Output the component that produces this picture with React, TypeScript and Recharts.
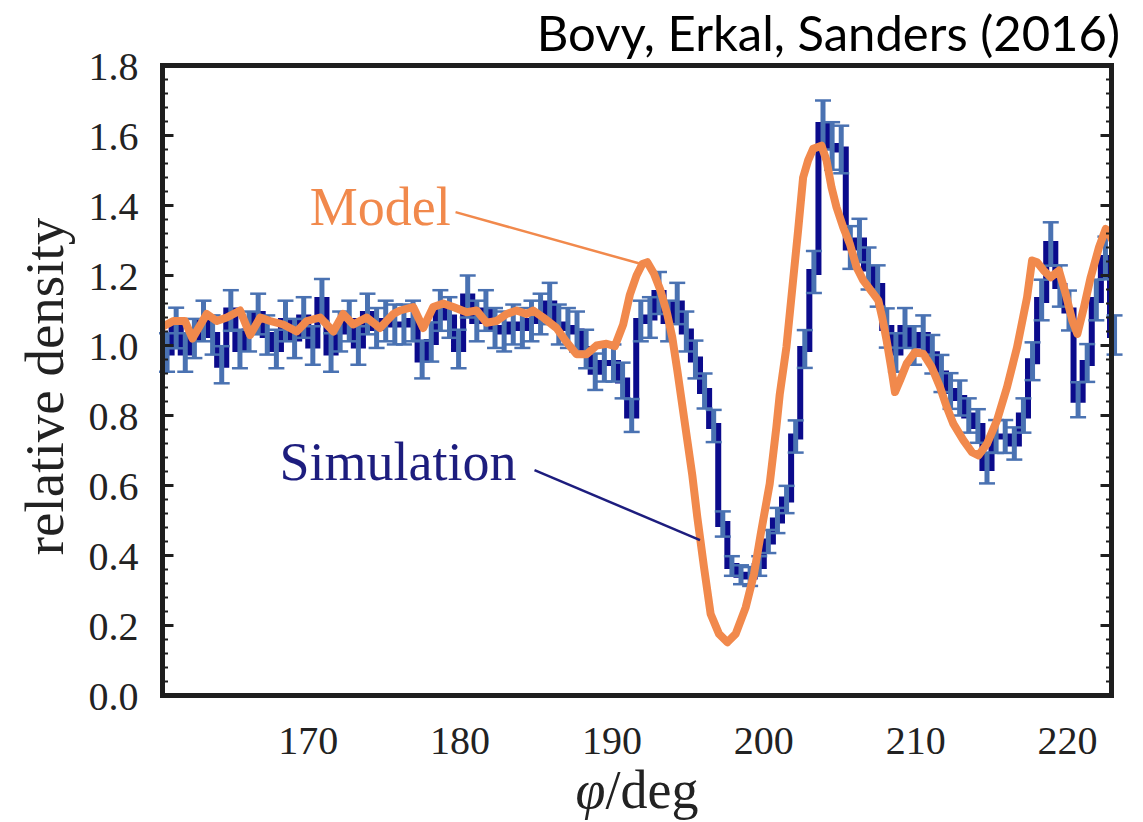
import {
  ComposedChart,
  Line,
  XAxis,
  YAxis,
  ErrorBar,
  ReferenceLine,
  ReferenceDot,
  Label,
} from "recharts";

const FRAME = "#1e1e1e";
const SIM_STEP = "#0b0b8c";
const SIM_ERR = "#4a72b2";
const MODEL = "#f1894c";
const SIM_TEXT = "#1d1d7e";
const SERIF = '"Liberation Serif", "DejaVu Serif", serif';

// simulation histogram, bins 0.6 deg wide starting at 160.4 deg
const BIN_START = 160.7;
const BIN_WIDTH = 0.6;

const simDensity = [
  0.98, 1.05, 0.98, 1.02, 1.07, 1.03, 0.945, 1.1, 0.99, 1.04,
  1.09, 1.03, 0.99, 1.07, 1.02, 1.08, 1.0, 1.13, 0.98, 1.04,
  1.07, 1.0, 1.09, 1.05, 1.07, 1.06, 1.06, 1.07, 0.96, 1.01,
  1.1, 1.08, 0.99, 1.14, 1.07, 1.1, 1.05, 1.04, 1.06, 1.05,
  1.07, 1.09, 1.12, 1.06, 1.05, 1.04, 0.99, 0.925, 0.95, 0.95,
  0.9, 0.8, 1.07, 1.08, 1.15, 1.07, 1.12, 1.04, 0.96, 0.87,
  0.77, 0.49, 0.37, 0.345, 0.34, 0.37, 0.44, 0.5, 0.56, 0.74,
  0.99, 1.21, 1.63, 1.57, 1.56, 1.28, 1.3, 1.22, 1.17, 1.05,
  0.98, 1.05, 1.0, 1.03, 0.975, 0.92, 0.87, 0.85, 0.8, 0.77,
  0.65, 0.74, 0.74, 0.72, 0.8, 0.955, 1.13, 1.29, 1.17, 1.1,
  0.845, 0.95, 1.13, 1.25, 1.03,
];

const simError = [
  0.055, 0.058, 0.055, 0.056, 0.058, 0.056, 0.053, 0.058, 0.055, 0.057,
  0.058, 0.056, 0.055, 0.058, 0.056, 0.058, 0.055, 0.06, 0.055, 0.057,
  0.058, 0.055, 0.058, 0.057, 0.058, 0.057, 0.057, 0.058, 0.054, 0.056,
  0.058, 0.058, 0.055, 0.06, 0.058, 0.058, 0.057, 0.057, 0.057, 0.057,
  0.058, 0.058, 0.059, 0.057, 0.057, 0.057, 0.055, 0.052, 0.053, 0.053,
  0.051, 0.047, 0.058, 0.058, 0.06, 0.058, 0.059, 0.057, 0.054, 0.05,
  0.046, 0.036, 0.028, 0.027, 0.027, 0.028, 0.033, 0.036, 0.039, 0.046,
  0.054, 0.06, 0.07, 0.068, 0.068, 0.061, 0.062, 0.06, 0.059, 0.056,
  0.055, 0.057, 0.055, 0.056, 0.055, 0.053, 0.051, 0.05, 0.049, 0.048,
  0.044, 0.047, 0.047, 0.046, 0.049, 0.054, 0.058, 0.062, 0.059, 0.057,
  0.05, 0.054, 0.058, 0.061, 0.056,
];

const modelPhi = [
  160.24, 161.11, 161.88, 162.37, 163.31, 163.97, 164.63, 165.51, 166.17, 166.83,
  167.49, 168.35, 169.24, 169.9, 170.78, 171.65, 172.3, 172.96, 173.84, 174.72,
  175.6, 176.04, 176.91, 177.57, 178.23, 178.89, 179.55, 180.43, 181.09, 181.74,
  182.4, 183.06, 183.72, 184.38, 184.81, 185.47, 186.35, 187.01, 187.67, 188.33,
  188.99, 189.64, 190.19, 190.74, 191.18, 191.62, 192.0, 192.33, 192.77, 193.2,
  193.64, 193.97, 194.3, 194.63, 194.96, 195.29, 195.62, 196.06, 196.5, 197.05,
  197.6, 198.15, 198.81, 199.36, 199.8, 200.39, 200.83, 201.05, 201.49, 201.93,
  202.26, 202.59, 202.92, 203.25, 203.8, 204.13, 204.46, 204.79, 205.23, 205.67,
  206.11, 206.55, 207.21, 207.54, 207.8, 208.09, 208.42, 208.64, 208.97, 209.41,
  209.96, 210.51, 211.06, 211.61, 212.05, 212.49, 213.15, 213.71, 214.14, 214.7,
  215.36, 216.02, 216.68, 217.34, 217.67, 218.0, 218.44, 218.89, 219.44, 219.88,
  220.32, 220.65, 221.09, 221.53, 222.08, 222.52, 222.85, 223.1,
];

const modelDensity = [
  1.05, 1.07, 1.07, 1.02, 1.09, 1.07, 1.08, 1.1, 1.03, 1.08,
  1.07, 1.06, 1.04, 1.07, 1.08, 1.04, 1.09, 1.06, 1.08, 1.05,
  1.09, 1.1, 1.11, 1.05, 1.11, 1.12, 1.11, 1.095, 1.1, 1.065,
  1.07, 1.09, 1.1, 1.09, 1.1, 1.08, 1.05, 1.01, 0.975, 0.975,
  1.0, 1.005, 0.998, 1.06, 1.145, 1.2, 1.233, 1.238, 1.205, 1.157,
  1.09, 1.024, 0.93, 0.83, 0.73, 0.63, 0.51, 0.367, 0.233, 0.176,
  0.152, 0.176, 0.252, 0.348, 0.462, 0.605, 0.767, 0.86, 0.995, 1.186,
  1.329, 1.48, 1.529, 1.562, 1.571, 1.529, 1.452, 1.395, 1.338, 1.29,
  1.224, 1.186, 1.148, 1.129, 1.08, 1.014, 0.929, 0.867, 0.9, 0.948,
  0.981, 0.976, 0.938, 0.881, 0.824, 0.776, 0.729, 0.695, 0.686, 0.719,
  0.786, 0.881, 0.995, 1.138, 1.243, 1.238, 1.214, 1.195, 1.214, 1.148,
  1.071, 1.033, 1.11, 1.195, 1.281, 1.333, 1.31, 1.29,
];

const xTicks = [170, 180, 190, 200, 210, 220];
const xMinorTicks = [
  162, 164, 166, 168, 172, 174, 176, 178, 182, 184, 186, 188, 192, 194, 196,
  198, 202, 204, 206, 208, 212, 214, 216, 218, 222,
];
const yTicks = [0, 0.2, 0.4, 0.6, 0.8, 1.0, 1.2, 1.4, 1.6, 1.8];
const yMinorTicks = Array.from({ length: 44 }, (_, i) => +((i + 1) * 0.04).toFixed(2)).filter(
  (t) => !yTicks.some((m) => Math.abs(m - t) < 1e-6)
);

const X_DOMAIN: [number, number] = [160.4, 222.9];
const Y_DOMAIN: [number, number] = [0, 1.8];

// annotation texts and leader lines, in data coordinates
const notes = [
  { text: "Model", phi: 170.1, v: 1.344, color: MODEL },
  { text: "Simulation", phi: 168.1, v: 0.616, color: SIM_TEXT },
];
const leaders = [
  { from: { x: 179.7, y: 1.381 }, to: { x: 192.0, y: 1.232 }, color: MODEL },
  { from: { x: 184.9, y: 0.644 }, to: { x: 195.8, y: 0.444 }, color: SIM_TEXT },
];

const simData = simDensity.map((v, i) => ({
  phi: +(BIN_START + i * BIN_WIDTH).toFixed(2),
  v,
  err: simError[i],
}));
const modelData = modelPhi.map((phi, i) => ({ phi, v: modelDensity[i] }));

const tickFont = { fontSize: 40, fontFamily: SERIF, fill: "#222" };

// inward tick marks drawn from the frame edge
type Side = "top" | "bottom" | "left" | "right";
function edgeTick(side: Side, majors: number[]) {
  return (props: any) => {
    const { x, y, payload } = props;
    const major = majors.some((m) => Math.abs(m - payload.value) < 1e-6);
    const len = major ? 11 : 5.5;
    let x2 = x;
    let y2 = y;
    if (side === "bottom") y2 = y - len;
    if (side === "top") y2 = y + len;
    if (side === "left") x2 = x + len;
    if (side === "right") x2 = x - len;
    return <line x1={x} y1={y} x2={x2} y2={y2} stroke={FRAME} strokeWidth={major ? 3 : 2} />;
  };
}

function XTitle(props: any) {
  const { viewBox } = props;
  return (
    <text
      x={viewBox.x + viewBox.width / 2}
      y={viewBox.y + 112}
      textAnchor="middle"
      fontSize={54}
      fontFamily={SERIF}
      fill="#222"
    >
      <tspan fontStyle="italic">φ</tspan>/deg
    </text>
  );
}

function YTitle(props: any) {
  const { viewBox } = props;
  const cx = 63;
  const cy = viewBox.y + viewBox.height / 2 + 6;
  return (
    <text
      x={cx}
      y={cy}
      transform={`rotate(-90 ${cx} ${cy})`}
      textAnchor="middle"
      fontSize={55}
      fontFamily={SERIF}
      fill="#222"
    >
      relative density
    </text>
  );
}

function noteContent(text: string, color: string) {
  return (props: any) => {
    const { viewBox } = props;
    return (
      <text x={viewBox.x} y={viewBox.y} fill={color} fontSize={54} fontFamily={SERIF}>
        {text}
      </text>
    );
  };
}

const frameLine = { stroke: FRAME, strokeWidth: 5, strokeLinecap: "square" as const };
const xAllTicks = [...xTicks, ...xMinorTicks].sort((a, b) => a - b);
const yAllTicks = [...yTicks, ...yMinorTicks].sort((a, b) => a - b);

export default function App() {
  return (
    <div style={{ position: "absolute", left: 0, top: 0, width: 1143, height: 822, background: "#fff" }}>
      <div
        style={{
          position: "absolute",
          right: 23,
          top: 8,
          fontFamily: "Lato, 'Open Sans', sans-serif",
          fontSize: 49,
          lineHeight: "49px",
          color: "#000",
          whiteSpace: "nowrap",
        }}
      >
        Bovy, Erkal, Sanders (2016)
      </div>
      <ComposedChart
        width={1143}
        height={822}
        margin={{ top: 65.5, right: 31.5, bottom: 46.5, left: 62.5 }}
      >
        <XAxis
          xAxisId="x"
          type="number"
          dataKey="phi"
          domain={X_DOMAIN}
          allowDataOverflow
          ticks={xTicks}
          interval={0}
          height={80}
          tickSize={0}
          tickMargin={30}
          tickLine={false}
          axisLine={false}
          tick={tickFont}
        >
          <Label content={XTitle} />
        </XAxis>
        <YAxis
          yAxisId="y"
          type="number"
          domain={Y_DOMAIN}
          allowDataOverflow
          ticks={yTicks}
          interval={0}
          width={100}
          tickSize={0}
          tickMargin={24}
          tickLine={false}
          axisLine={false}
          tick={tickFont}
          tickFormatter={(v: number) => v.toFixed(1)}
        >
          <Label content={YTitle} />
        </YAxis>

        {/* frame with inward ticks on all four sides */}
        <XAxis xAxisId="bFrame" type="number" domain={X_DOMAIN} allowDataOverflow orientation="bottom" mirror height={1}
          ticks={xAllTicks} interval={0} tickSize={0} tickMargin={0} tickLine={false}
          tick={edgeTick("bottom", xTicks)} axisLine={frameLine} />
        <XAxis xAxisId="tFrame" type="number" domain={X_DOMAIN} allowDataOverflow orientation="top" mirror height={1}
          ticks={xAllTicks} interval={0} tickSize={0} tickMargin={0} tickLine={false}
          tick={edgeTick("top", xTicks)} axisLine={frameLine} />
        <YAxis yAxisId="lFrame" type="number" domain={Y_DOMAIN} allowDataOverflow orientation="left" mirror width={1}
          ticks={yAllTicks} interval={0} tickSize={0} tickMargin={0} tickLine={false}
          tick={edgeTick("left", yTicks)} axisLine={frameLine} />
        <YAxis yAxisId="rFrame" type="number" domain={Y_DOMAIN} allowDataOverflow orientation="right" mirror width={1}
          ticks={yAllTicks} interval={0} tickSize={0} tickMargin={0} tickLine={false}
          tick={edgeTick("right", yTicks)} axisLine={frameLine} />

        {/* simulation: step histogram + error bars */}
        <Line
          xAxisId="x"
          yAxisId="y"
          data={simData}
          dataKey="v"
          type="step"
          stroke={SIM_STEP}
          strokeWidth={6}
          dot={false}
          activeDot={false}
          isAnimationActive={false}
        />
        <Line
          xAxisId="x"
          yAxisId="y"
          data={simData}
          dataKey="v"
          stroke="none"
          dot={false}
          activeDot={false}
          isAnimationActive={false}
        >
          <ErrorBar dataKey="err" direction="y" width={0} stroke={SIM_ERR} strokeWidth={5} isAnimationActive={false} />
        </Line>
        <Line
          xAxisId="x"
          yAxisId="y"
          data={simData}
          dataKey="v"
          stroke="none"
          dot={false}
          activeDot={false}
          isAnimationActive={false}
        >
          <ErrorBar dataKey="err" direction="y" width={8} stroke={SIM_ERR} strokeWidth={2.5} isAnimationActive={false} />
        </Line>

        {/* model */}
        <Line
          xAxisId="x"
          yAxisId="y"
          data={modelData}
          dataKey="v"
          type="linear"
          stroke={MODEL}
          strokeWidth={8}
          strokeLinejoin="round"
          dot={false}
          activeDot={false}
          isAnimationActive={false}
        />

        {leaders.map((l, i) => (
          <ReferenceLine
            key={`lead-${i}`}
            xAxisId="x"
            yAxisId="y"
            segment={[l.from, l.to]}
            stroke={l.color}
            strokeWidth={2.5}
          />
        ))}
        {notes.map((n) => (
          <ReferenceDot
            key={n.text}
            xAxisId="x"
            yAxisId="y"
            x={n.phi}
            y={n.v}
            r={0}
            fill="none"
            stroke="none"
          >
            <Label content={noteContent(n.text, n.color)} />
          </ReferenceDot>
        ))}
      </ComposedChart>
    </div>
  );
}
